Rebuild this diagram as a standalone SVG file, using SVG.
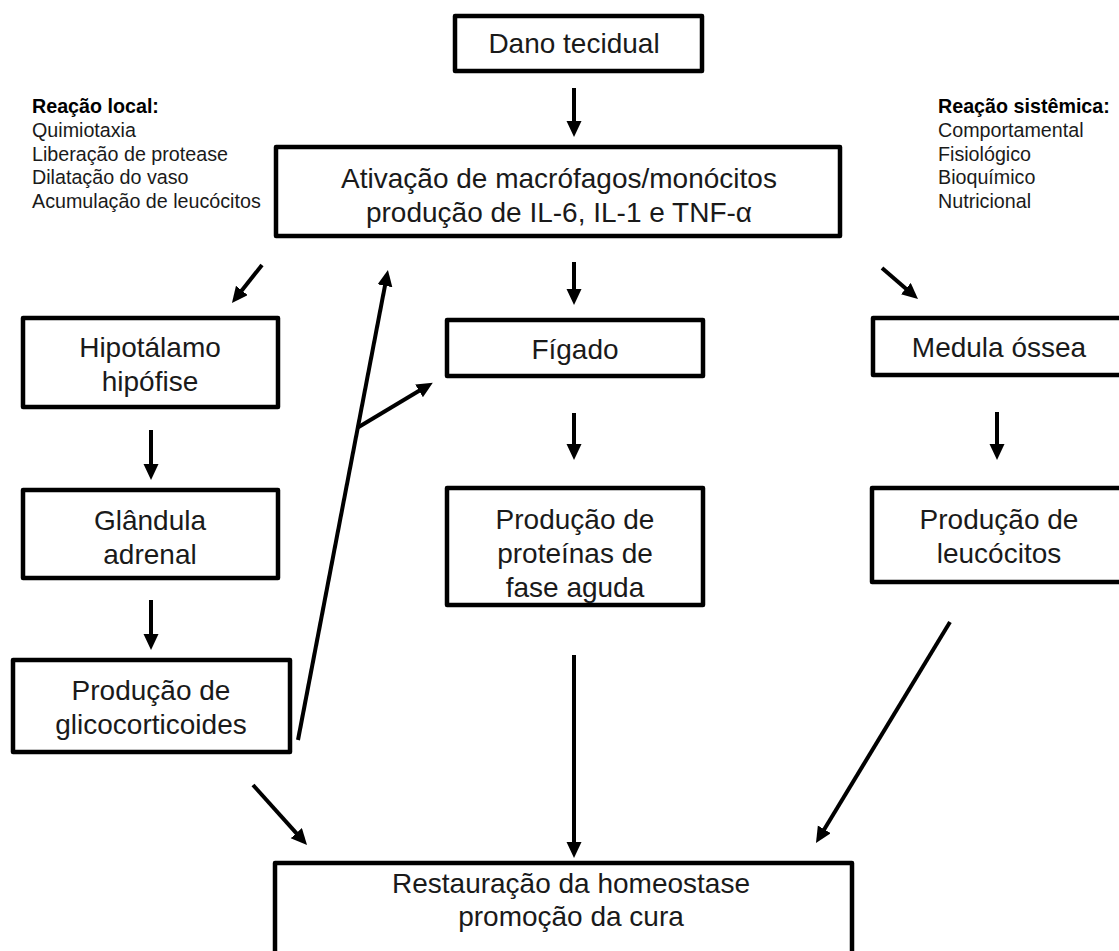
<svg xmlns="http://www.w3.org/2000/svg" width="1119" height="951" viewBox="0 0 1119 951">
<style>
.box{fill:#fff;stroke:#000;stroke-width:4.5;stroke-linejoin:round}
.t{font-family:"Liberation Sans",Arial,sans-serif;font-size:28px;fill:#1a1a1a;text-anchor:middle}
.s{font-family:"Liberation Sans",Arial,sans-serif;font-size:19.7px;fill:#1a1a1a}
.b{font-weight:bold;fill:#000}
.c{stroke:#000;stroke-width:4;fill:none;marker-end:url(#ah)}
</style>
<defs>
<marker id="ah" markerWidth="18" markerHeight="18" refX="4" refY="7.5" orient="auto" markerUnits="userSpaceOnUse"><path d="M0,0 L16,7.5 L0,15 z" fill="#000"/></marker>
</defs>
<rect width="1119" height="951" fill="#fff"/>
<g id="reacao-local">
<text class="s b" x="32" y="113">Reação local:</text>
<text class="s" x="32" y="137">Quimiotaxia</text>
<text class="s" x="32" y="161">Liberação de protease</text>
<text class="s" x="32" y="184">Dilatação do vaso</text>
<text class="s" x="32" y="208">Acumulação de leucócitos</text>
</g>
<g id="reacao-sistemica">
<text class="s b" x="938" y="113">Reação sistêmica:</text>
<text class="s" x="938" y="137">Comportamental</text>
<text class="s" x="938" y="161">Fisiológico</text>
<text class="s" x="938" y="184">Bioquímico</text>
<text class="s" x="938" y="208">Nutricional</text>
</g>
<g id="dano">
<rect class="box" x="455" y="16" width="247" height="55"/>
<text class="t" x="574" y="53">Dano tecidual</text>
</g>
<g id="macrofagos">
<rect class="box" x="276" y="147" width="564" height="89"/>
<text class="t" x="559" y="188">Ativação de macrófagos/monócitos</text>
<text class="t" x="559" y="222">produção de IL-6, IL-1 e TNF-α</text>
</g>
<g id="hipotalamo">
<rect class="box" x="23" y="318" width="255" height="89"/>
<text class="t" x="150" y="357">Hipotálamo</text>
<text class="t" x="150" y="391">hipófise</text>
</g>
<g id="adrenal">
<rect class="box" x="23" y="490" width="255" height="88"/>
<text class="t" x="150" y="530">Glândula</text>
<text class="t" x="150" y="564">adrenal</text>
</g>
<g id="glicocorticoides">
<rect class="box" x="13" y="660" width="277" height="92"/>
<text class="t" x="151" y="700">Produção de</text>
<text class="t" x="151" y="734">glicocorticoides</text>
</g>
<g id="figado">
<rect class="box" x="447" y="320" width="256" height="56"/>
<text class="t" x="575" y="359">Fígado</text>
</g>
<g id="proteinas">
<rect class="box" x="447" y="488" width="256" height="117"/>
<text class="t" x="575" y="529">Produção de</text>
<text class="t" x="575" y="563">proteínas de</text>
<text class="t" x="575" y="597">fase aguda</text>
</g>
<g id="medula">
<rect class="box" x="873" y="318" width="252" height="57"/>
<text class="t" x="999" y="357">Medula óssea</text>
</g>
<g id="leucocitos">
<rect class="box" x="872" y="488" width="253" height="94"/>
<text class="t" x="999" y="529">Produção de</text>
<text class="t" x="999" y="563">leucócitos</text>
</g>
<g id="restauracao">
<rect class="box" x="275" y="863" width="577" height="110"/>
<text class="t" x="571" y="893">Restauração da homeostase</text>
<text class="t" x="571" y="926">promoção da cura</text>
</g>
<g id="connectors">
<line class="c" x1="574" y1="88" x2="574" y2="125"/>
<line class="c" x1="262" y1="265" x2="239.4" y2="293.6"/>
<line class="c" x1="574" y1="262" x2="574" y2="293"/>
<line class="c" x1="882" y1="268" x2="908.9" y2="291.2"/>
<line class="c" x1="151" y1="430" x2="151" y2="468"/>
<line class="c" x1="151" y1="600" x2="151" y2="638"/>
<line class="c" x1="574" y1="413" x2="574" y2="448"/>
<line class="c" x1="997" y1="412" x2="997" y2="448"/>
<line class="c" x1="298" y1="740" x2="385.7" y2="281.8"/>
<line class="c" x1="357" y1="428" x2="422.5" y2="388.8"/>
<line class="c" x1="253" y1="785" x2="299" y2="836.1"/>
<line class="c" x1="574" y1="655" x2="574" y2="846"/>
<line class="c" x1="950" y1="622" x2="822.2" y2="832.7"/>
</g>
</svg>
